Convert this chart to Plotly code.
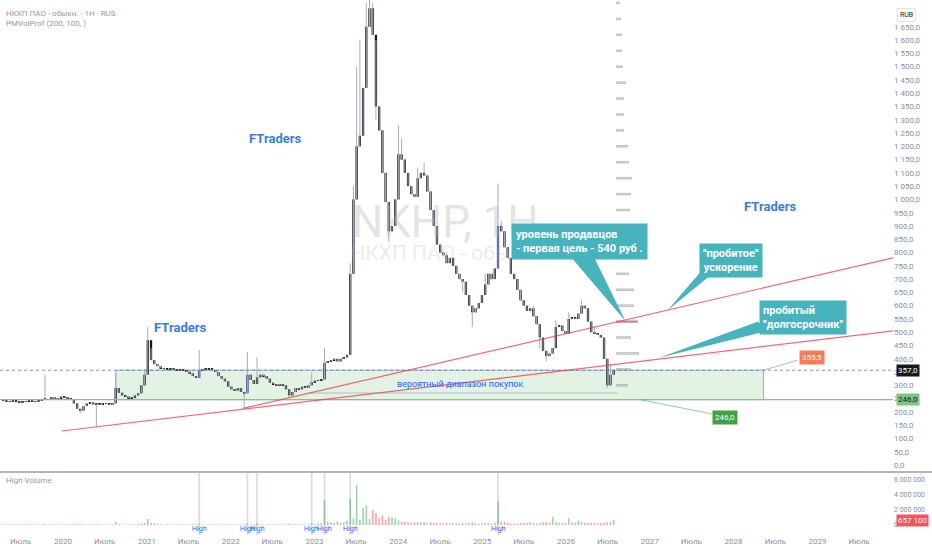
import pandas as pd
import plotly.graph_objects as go

# NKHP price, two-week candles
start_date = "2019-04-02"
closes = [
    245, 243, 240, 238, 242, 240, 236, 238, 241, 244,
    240, 238, 242, 246, 250, 250, 255, 248, 252, 258,
    255, 250, 245, 232, 212, 205, 222, 232, 236, 228,
    230, 228, 232, 230, 226, 232, 290, 272, 262, 258,
    252, 255, 262, 270, 300, 340, 470, 395, 380, 372,
    365, 362, 360, 362, 358, 356, 360, 357, 352, 345,
    335, 328, 355, 362, 360, 362, 358, 350, 335, 325,
    315, 295, 285, 280, 290, 275, 270, 340, 320, 305,
    330, 340, 335, 325, 310, 305, 300, 305, 300, 285,
    262, 275, 290, 285, 295, 290, 300, 312, 318, 320,
    322, 385, 390, 395, 400, 390, 400, 405, 415, 720,
    1000, 1200, 1240, 1420, 1650, 1720, 1620, 1350, 1260, 1100,
    990, 880, 900, 1000, 1170, 1150, 1100, 1050, 1020, 1010,
    1080, 1100, 1090, 1030, 960, 900, 830, 800, 790, 760,
    780, 750, 720, 700, 690, 640, 600, 575, 590, 610,
    640, 680, 720, 700, 740, 900, 880, 820, 780, 720,
    700, 660, 620, 600, 580, 590, 560, 530, 480, 430,
    410, 420, 440, 520, 525, 505, 495, 550, 555, 550,
    570, 600, 590, 540, 500, 495, 490, 480, 400, 300,
    340, 357,
]
# notable wicks (candle index -> price)
high_wicks = {14: 339, 36: 345, 45: 360, 46: 520, 47: 440, 62: 433, 77: 425, 80: 405,
              97: 350, 101: 440, 109: 760, 110: 1050, 111: 1500, 112: 1600, 114: 1740,
              115: 1760, 116: 1740, 117: 1600, 124: 1280, 125: 1230, 130: 1120, 132: 1140,
              139: 800, 151: 720, 155: 1060, 156: 920, 166: 600, 173: 545, 177: 575,
              181: 620, 185: 520, 190: 380}
low_wicks = {25: 196, 30: 143, 76: 215, 90: 252, 117: 1300, 121: 840, 144: 650,
             147: 520, 168: 440, 170: 390, 189: 290}
# volume, millions of shares
volumes_mln = [
    0.08, 0.06, 0.10, 0.07, 0.05, 0.09, 0.06, 0.08, 0.12, 0.07,
    0.05, 0.06, 0.09, 0.07, 0.15, 0.08, 0.06, 0.10, 0.07, 0.09,
    0.06, 0.08, 0.10, 0.12, 0.18, 0.10, 0.07, 0.06, 0.08, 0.12,
    0.10, 0.07, 0.06, 0.05, 0.08, 0.09, 0.40, 0.15, 0.10, 0.08,
    0.07, 0.09, 0.10, 0.12, 0.20, 0.25, 0.80, 0.30, 0.20, 0.15,
    0.10, 0.08, 0.10, 0.07, 0.09, 0.08, 0.06, 0.07, 0.10, 0.08,
    0.12, 0.10, 0.18, 0.10, 0.08, 0.07, 0.09, 0.08, 0.10, 0.12,
    0.09, 0.10, 0.08, 0.07, 0.09, 0.10, 0.14, 0.20, 0.12, 0.10,
    0.22, 0.10, 0.08, 0.09, 0.07, 0.08, 0.10, 0.09, 0.08, 0.10,
    0.15, 0.10, 0.08, 0.09, 0.10, 0.08, 0.12, 0.25, 0.15, 0.20,
    0.30, 3.30, 0.45, 0.35, 0.25, 0.50, 0.30, 0.35, 0.60, 3.50,
    0.90, 5.30, 0.70, 2.30, 2.60, 0.80, 2.00, 1.60, 0.90, 1.30,
    0.70, 1.10, 1.00, 0.90, 0.60, 0.50, 0.40, 0.35, 0.30, 0.35,
    0.40, 0.30, 0.35, 0.25, 0.40, 0.30, 0.25, 0.20, 0.25, 0.30,
    0.20, 0.25, 0.20, 0.18, 0.25, 0.20, 0.30, 0.35, 0.20, 0.18,
    0.20, 0.25, 0.20, 0.15, 0.30, 3.10, 0.50, 0.40, 0.30, 0.20,
    0.15, 0.20, 0.25, 0.30, 0.25, 0.35, 0.30, 0.25, 0.30, 0.35,
    0.40, 0.30, 1.10, 0.40, 0.30, 0.25, 0.30, 0.90, 0.35, 0.30,
    0.60, 0.40, 0.30, 0.25, 0.30, 0.25, 0.20, 0.25, 0.30, 0.40,
    0.45, 0.657,
]
high_volume_idx = [62, 77, 80, 97, 101, 109, 155]
blue_candles = [62, 77, 155]

# PMVolProf rows
profile_anchor = "2026-08-09"
profile_prices = [300, 360, 420, 480, 540, 600, 660, 720, 780, 840, 900, 960, 1020,
                  1080, 1140, 1200, 1260, 1320, 1380, 1440, 1500, 1560, 1620, 1680, 1740]
profile_volume = [11, 14, 22, 14, 21, 17, 17, 12, 15, 16, 13, 13, 14,
                  15, 12, 11, 7, 7, 7, 9, 6, 5, 5, 4, 3]
profile_poc = 540

# drawings
zone_start, zone_end = "2020-08-19", "2028-05-11"
zone_low, zone_high = 246, 357
last_price = 357
long_trend = (["2019-12-27", "2029-11-26"], [128, 505])
fast_trend = (["2022-02-23", "2029-11-26"], [213, 780])
value_line = (["2022-12-04", "2026-08-13"], [271, 271])

x_ticks = ["2019-07-01", "2020-01-01", "2020-07-01", "2021-01-01", "2021-07-01",
           "2022-01-01", "2022-07-01", "2023-01-01", "2023-07-01", "2024-01-01",
           "2024-07-01", "2025-01-01", "2025-07-01", "2026-01-01", "2026-07-01",
           "2027-01-01", "2027-07-01", "2028-01-01", "2028-07-01", "2029-01-01",
           "2029-07-01"]
x_labels = ["Июль", "2020", "Июль", "2021", "Июль", "2022", "Июль", "2023", "Июль", "2024",
            "Июль", "2025", "Июль", "2026", "Июль", "2027", "Июль", "2028", "Июль", "2029",
            "Июль"]
price_ticks = list(range(0, 1651, 50))

TEAL = "#47b3bd"
GREY = "#8c8f99"

dates = pd.date_range(start_date, periods=len(closes), freq="14D")
opens = [closes[0]] + closes[:-1]
highs = [high_wicks.get(i, max(o, c)) for i, (o, c) in enumerate(zip(opens, closes))]
lows = [low_wicks.get(i, min(o, c)) for i, (o, c) in enumerate(zip(opens, closes))]
day_ms = 86400000

fig = go.Figure()

# watermark behind the candles
fig.add_trace(go.Scatter(x=["2024-07-24"], y=[900], mode="text", text=["NKHP, 1Н"],
                         textfont=dict(size=44, color="rgba(175,178,185,0.35)", family="Roboto"),
                         hoverinfo="skip"))
fig.add_trace(go.Scatter(x=["2024-07-24"], y=[791], mode="text", text=["НКХП ПАО - обыкн."],
                         textfont=dict(size=21, color="rgba(175,178,185,0.25)", family="Roboto"),
                         hoverinfo="skip"))

# wicks
wx, wy = [], []
for d, lo, hi in zip(dates, lows, highs):
    wx += [d, d, None]
    wy += [lo, hi, None]
fig.add_trace(go.Scatter(x=wx, y=wy, mode="lines", line=dict(color="#a9acb5", width=1),
                         hoverinfo="skip"))

# bodies
body_colors = ["#283593" if i in blue_candles else "#131722" for i in range(len(closes))]
fig.add_trace(go.Bar(x=dates, y=[abs(c - o) for o, c in zip(opens, closes)],
                     base=[min(o, c) for o, c in zip(opens, closes)],
                     width=10 * day_ms, marker=dict(color=body_colors, line=dict(width=0))))

# volume profile
prof_colors = ["rgba(242,54,69,0.75)" if p == profile_poc else "rgba(190,193,200,0.45)"
               for p in profile_prices]
fig.add_trace(go.Bar(orientation="h", y=profile_prices,
                     x=[v * 4.36 * day_ms for v in profile_volume],
                     base=[profile_anchor] * len(profile_prices), width=6,
                     marker=dict(color=prof_colors, line=dict(color="#9a9da6", width=0.6))))

# callout pointers
pointers = [
    (["2026-01-11", "2026-04-26", "2026-09-17"], [795, 795, 542]),
    (["2027-08-10", "2027-10-10", "2027-03-19"], [727, 727, 582]),
    (["2028-04-15", "2028-06-10", "2027-02-08"], [539, 508, 403]),
]
for px_, py_ in pointers:
    fig.add_trace(go.Scatter(x=px_, y=py_, fill="toself", fillcolor=TEAL, mode="lines",
                             line=dict(width=0, color=TEAL), hoverinfo="skip"))

# volume pane
vol_colors = ["rgba(76,175,80,0.55)" if c >= o else "rgba(242,54,69,0.45)"
              for o, c in zip(opens, closes)]
fig.add_trace(go.Bar(x=dates, y=[v * 1e6 for v in volumes_mln], width=7 * day_ms,
                     marker=dict(color=vol_colors, line=dict(width=0)),
                     xaxis="x2", yaxis="y2"))

shapes = [
    dict(type="rect", xref="x", yref="y", x0=zone_start, x1=zone_end, y0=zone_low, y1=zone_high,
         fillcolor="rgba(76,175,80,0.16)", line=dict(color="rgba(41,98,255,0.5)", width=1),
         layer="below"),
    dict(type="line", xref="paper", yref="y", x0=0, x1=1, y0=zone_low, y1=zone_low,
         line=dict(color="#81c784", width=1.3)),
    dict(type="line", xref="paper", yref="y", x0=0, x1=1, y0=last_price, y1=last_price,
         line=dict(color="rgba(120,123,134,0.8)", width=1, dash="dot")),
    dict(type="line", xref="x", yref="y", x0=value_line[0][0], x1=value_line[0][1],
         y0=value_line[1][0], y1=value_line[1][1], line=dict(color="#b7b9c0", width=1)),
    dict(type="line", xref="x", yref="y", x0=long_trend[0][0], x1=long_trend[0][1],
         y0=long_trend[1][0], y1=long_trend[1][1], line=dict(color="rgba(242,54,69,0.75)", width=1.2)),
    dict(type="line", xref="x", yref="y", x0=fast_trend[0][0], x1=fast_trend[0][1],
         y0=fast_trend[1][0], y1=fast_trend[1][1], line=dict(color="rgba(242,54,69,0.75)", width=1.2)),
    dict(type="line", xref="x", yref="y", x0=zone_end, x1="2028-10-06", y0=zone_high, y1=395,
         line=dict(color="rgba(76,175,80,0.6)", width=1)),
    dict(type="line", xref="x", yref="y", x0="2026-11-21", x1="2027-10-01", y0=zone_low, y1=192,
         line=dict(color="rgba(76,175,80,0.6)", width=1)),
    dict(type="line", xref="paper", yref="paper", x0=0, x1=1.05, y0=0.1178, y1=0.1178,
         line=dict(color="#b2b5be", width=2)),
]
for i in high_volume_idx:
    d = dates[i]
    shapes.append(dict(type="rect", xref="x2", yref="paper",
                       x0=d - pd.Timedelta(days=4), x1=d + pd.Timedelta(days=4),
                       y0=0, y1=0.1159, fillcolor="rgba(121,134,203,0.28)",
                       line=dict(width=0), layer="below"))

annotations = [
    dict(xref="paper", yref="paper", x=0.004, y=0.987, text="НКХП ПАО - обыкн. · 1Н · RUS",
         showarrow=False, xanchor="left", font=dict(size=8, color="#9598a1")),
    dict(xref="paper", yref="paper", x=0.004, y=0.968, text="PMVolProf (200, 100, )",
         showarrow=False, xanchor="left", font=dict(size=8, color="#9598a1")),
    dict(xref="paper", yref="paper", x=0.004, y=0.09, text="High Volume",
         showarrow=False, xanchor="left", font=dict(size=8, color="#9598a1")),
    dict(x="2022-07-13", y=1228, text="<b>FTraders</b>", showarrow=False,
         font=dict(size=13, color="#3b7ddd")),
    dict(x="2021-05-25", y=516, text="<b>FTraders</b>", showarrow=False,
         font=dict(size=13, color="#3b7ddd")),
    dict(x="2028-06-10", y=975, text="<b>FTraders</b>", showarrow=False,
         font=dict(size=13, color="#3b7ddd")),
    dict(x="2024-09-27", y=305, text="вероятный диапазон покупок", showarrow=False,
         font=dict(size=9, color="#2962ff")),
    dict(x="2026-02-28", y=840, text="<b>уровень продавцов<br>- первая цель - 540 руб .</b>",
         showarrow=False, align="left", bgcolor=TEAL, borderpad=4,
         font=dict(size=11, color="white")),
    dict(x="2027-12-19", y=770, text="<b>\"пробитое\"<br>ускорение</b>",
         showarrow=False, align="center", bgcolor=TEAL, borderpad=3,
         font=dict(size=11, color="white")),
    dict(x="2028-10-28", y=554, text="<b>пробитый<br>\"долгосрочник\"</b>",
         showarrow=False, align="left", bgcolor=TEAL, borderpad=3,
         font=dict(size=11, color="white")),
    dict(x="2028-12-06", y=403, text="355,5", showarrow=False, bgcolor="#f77c5a",
         borderpad=2, font=dict(size=8, color="white")),
    dict(x="2027-11-27", y=179, text="246,0", showarrow=False, bgcolor="#43a047",
         borderpad=2, font=dict(size=8, color="white")),
    dict(xref="paper", yref="y", x=1.003, y=last_price, text="357,0", showarrow=False,
         xanchor="left", bgcolor="#131722", borderpad=1, font=dict(size=8, color="white")),
    dict(xref="paper", yref="y", x=1.003, y=zone_low, text="246,0", showarrow=False,
         xanchor="left", bgcolor="#7cc47f", borderpad=1, font=dict(size=8, color="#131722")),
    dict(xref="paper", yref="y2", x=1.003, y=volumes_mln[-1] * 1e6, text="657 100",
         showarrow=False, xanchor="left", bgcolor="#f7525f", borderpad=1,
         font=dict(size=8, color="white")),
    dict(xref="paper", yref="paper", x=1.004, y=0.985, text="RUB", showarrow=False,
         xanchor="left", bgcolor="white", bordercolor="#e0e3eb", borderwidth=1,
         borderpad=2, font=dict(size=7, color="#131722")),
]
for i in high_volume_idx:
    annotations.append(dict(xref="x2", yref="paper", x=dates[i], y=0.0, text="High",
                            showarrow=False, font=dict(size=7, color="#2962ff")))

fig.update_layout(
    width=932, height=550,
    margin=dict(l=0, r=39, t=0, b=15),
    paper_bgcolor="white", plot_bgcolor="white",
    showlegend=False, barmode="overlay", separators=", ",
    font=dict(family="Roboto", size=8, color=GREY),
    xaxis=dict(domain=[0, 1], range=["2019-04-02", "2029-11-26"], type="date", anchor="y",
               showticklabels=False, showgrid=False, zeroline=False),
    yaxis=dict(domain=[0.1196, 1], range=[-22.6, 1751], side="right", anchor="x",
               tickvals=price_ticks, tickformat=",.1f", showgrid=False, zeroline=False,
               tickfont=dict(size=8, color=GREY)),
    xaxis2=dict(domain=[0, 1], matches="x", type="date", anchor="y2",
                tickvals=x_ticks, ticktext=x_labels, showgrid=False, zeroline=False,
                tickfont=dict(size=8, color=GREY)),
    yaxis2=dict(domain=[0, 0.1159], range=[-1.333e6, 6.933e6], side="right", anchor="x2",
                tickvals=[0, 2e6, 4e6, 6e6], tickformat=",d", showgrid=False, zeroline=False,
                tickfont=dict(size=7, color=GREY)),
    shapes=shapes,
    annotations=annotations,
)

# page body margin would shift the 932x550 figure
fig.write_html("out.html", config={"displayModeBar": False},
               post_script="document.body.style.margin='0';")
